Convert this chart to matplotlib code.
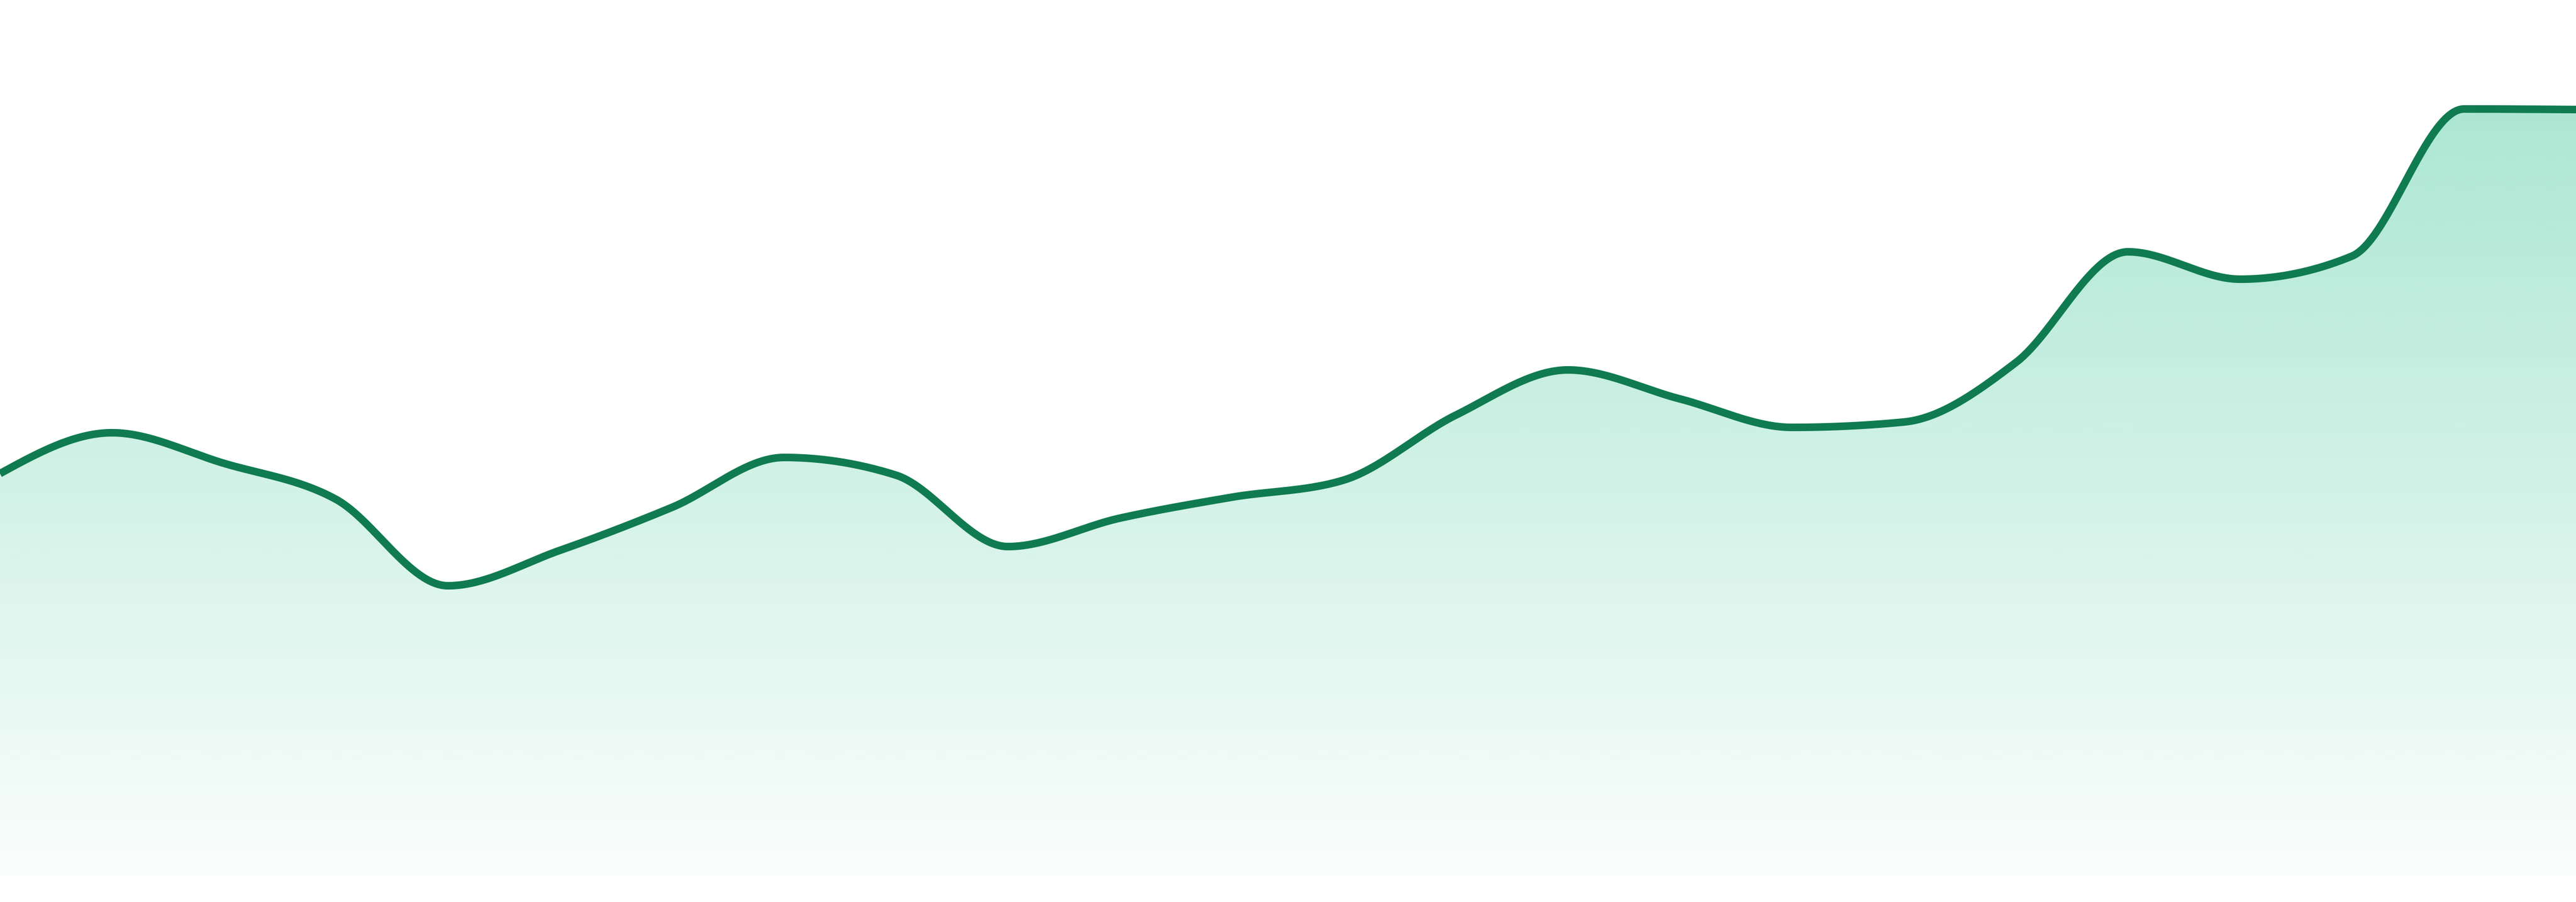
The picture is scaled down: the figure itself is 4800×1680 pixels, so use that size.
import matplotlib
import numpy as np

matplotlib.use("Agg")
import matplotlib.pyplot as plt
from matplotlib.path import Path
from matplotlib.patches import PathPatch

# values (one point per period)
periods = list(range(24))
values = [75.0, 82.6, 76.9, 70.2, 54.1, 60.7, 68.7, 78.0, 74.7, 61.4, 66.7, 70.6,
          73.8, 85.9, 94.3, 88.9, 83.6, 84.6, 95.7, 116.3, 111.2, 115.5, 142.9, 142.8]

line_color = "#107b50"
fill_color = (16 / 255, 185 / 255, 129 / 255)


def monotone_tangents(x, y):
    # same tangents as d3.curveMonotoneX
    x = np.asarray(x, float)
    y = np.asarray(y, float)
    n = len(x)
    h = np.diff(x)
    s = np.diff(y) / h
    t = np.zeros(n)
    for i in range(1, n - 1):
        p = (s[i - 1] * h[i] + s[i] * h[i - 1]) / (h[i - 1] + h[i])
        t[i] = (np.sign(s[i - 1]) + np.sign(s[i])) * min(abs(s[i - 1]), abs(s[i]), 0.5 * abs(p))
    t[0] = (3 * s[0] - t[1]) / 2
    t[-1] = (3 * s[-1] - t[-2]) / 2
    return t


def monotone_curve(x, y, per_seg=60):
    x = np.asarray(x, float)
    y = np.asarray(y, float)
    t = monotone_tangents(x, y)
    xs, ys = [], []
    for i in range(len(x) - 1):
        h = x[i + 1] - x[i]
        u = np.linspace(0, 1, per_seg, endpoint=False)
        h00 = 2 * u**3 - 3 * u**2 + 1
        h10 = u**3 - 2 * u**2 + u
        h01 = -2 * u**3 + 3 * u**2
        h11 = u**3 - u**2
        xs.append(x[i] + u * h)
        ys.append(h00 * y[i] + h10 * h * t[i] + h01 * y[i + 1] + h11 * h * t[i + 1])
    xs.append([x[-1]])
    ys.append([y[-1]])
    return np.concatenate(xs), np.concatenate(ys)


def main():
    fig = plt.figure(figsize=(16, 5.6), dpi=300)
    ax = fig.add_axes([0, 0, 1, 1])
    ax.set_xlim(periods[0], periods[-1])
    ax.set_ylim(-4.8, 163.2)
    ax.axis("off")

    cx, cy = monotone_curve(periods, values)

    # gradient fill under the curve
    top = max(values)
    verts = np.column_stack([np.r_[cx, cx[-1], cx[0]], np.r_[cy, 0, 0]])
    clip = PathPatch(Path(verts), facecolor="none", edgecolor="none")
    ax.add_patch(clip)
    grad = np.zeros((256, 1, 4))
    grad[:, 0, 0] = fill_color[0]
    grad[:, 0, 1] = fill_color[1]
    grad[:, 0, 2] = fill_color[2]
    grad[:, 0, 3] = np.linspace(0.02, 0.35, 256)
    img = ax.imshow(grad, extent=(periods[0], periods[-1], 0, top), origin="lower",
                    aspect="auto", interpolation="bilinear", zorder=1)
    img.set_clip_path(clip)

    ax.plot(cx, cy, color=line_color, linewidth=3.4, solid_capstyle="butt", zorder=2)

    fig.savefig("out.png", dpi=300, facecolor="white")


if __name__ == "__main__":
    main()
